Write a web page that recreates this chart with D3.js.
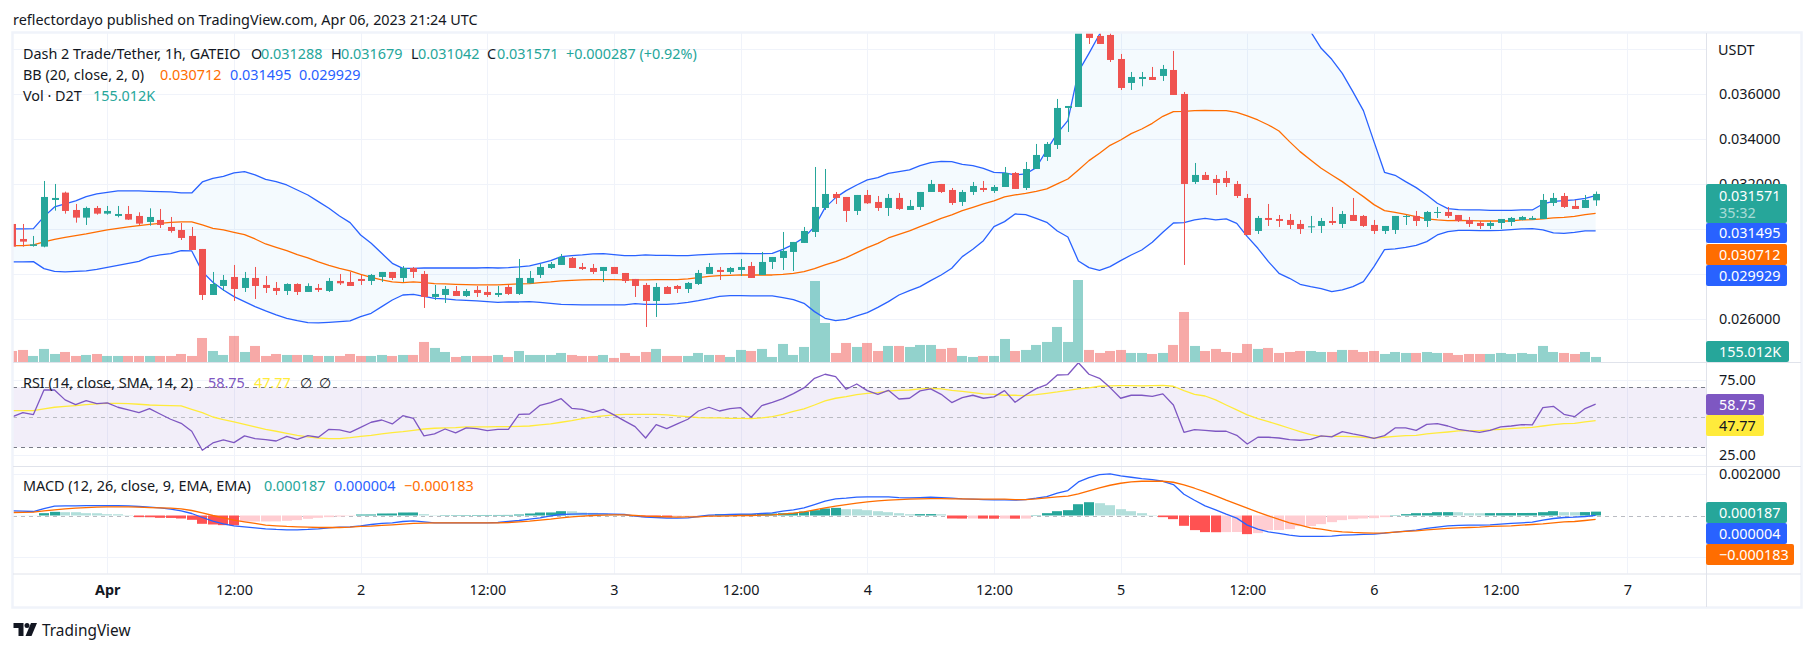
<!DOCTYPE html>
<html>
<head>
<meta charset="utf-8">
<title>Dash 2 Trade/Tether, 1h, GATEIO</title>
<script src="https://cdn.jsdelivr.net/npm/d3@7/dist/d3.min.js"></script>
<style>
    html, body { margin: 0; padding: 0; background: #fff; }
    svg { display: block; }
    text { font-family: "Noto Sans", sans-serif; font-size: 14.4px; fill: #131722; }
</style>
</head>
<body>
<div id="chart"></div>
<script>
// hourly bars, first one is Mar 31 15:00 UTC, last one Apr 6 21:00 UTC
var firstBar = Date.UTC(2023, 2, 31, 15);

// prices and MACD are in millionths of USDT, volume in thousands of D2T
var opens = [30237,29570,29259,29230,31304,31630,30859,30519,30948,30696,
    30593,30681,30593,30326,30415,30104,29970,29704,29126,27081,
    27481,27881,27393,27837,27526,27393,27259,27570,27215,27393,
    27259,27704,27659,27793,27704,27881,28104,27837,28281,28015,
    26993,27081,27259,27037,27304,27215,27081,27437,27126,27600,
    27970,28281,28415,28726,28326,28281,28148,28326,28059,27793,
    27526,26815,27437,27481,27348,27570,28015,28193,28104,28193,
    28370,27970,28548,28726,28993,29393,29881,30948,31570,31437,
    30815,31526,31215,30948,31393,30859,30993,31659,32015,31748,
    31215,31659,31837,31704,31881,32504,31837,32681,33215,33748,
    35393,35437,38900,38593,38637,37570,36504,36681,36770,36815,
    37081,36015,32104,32415,32237,32281,32015,31393,29926,30504,
    30459,30415,30237,30104,30148,30370,30237,30637,30593,30193,
    29926,29970,30548,30593,30370,30741,30770,30637,30415,30281,
    30148,30281,30326,30415,30430,30459,31170,31481,31037,30948,31288];
var highs = [30741,30237,29704,32148,32015,31674,31126,31007,31037,31037,
    31037,31037,30756,30933,30904,30548,30281,30104,29126,28104,
    27970,28415,28104,28326,27926,27659,27600,27600,27600,27570,
    27837,28015,28104,27970,28015,28104,28104,28370,28326,28148,
    27526,27481,27481,27348,27481,27481,27481,27526,28681,28148,
    28459,28548,28904,28770,28504,28459,28326,28326,28059,27793,
    27615,27615,27481,27526,27659,28193,28504,28326,28326,28681,
    28548,28993,28770,29881,29437,30104,32770,32681,31659,31437,
    31526,31748,31481,31570,31615,31304,31659,32193,32015,31837,
    31748,32104,32148,31970,32770,32548,32993,33793,33881,35793,
    35481,39000,39100,38800,38800,37793,36993,36993,37215,37304,
    37926,36104,32948,32548,32415,32593,32148,31570,30593,31126,
    30637,30681,30415,30593,30504,30993,30815,31393,30637,30415,
    30148,30593,30637,30815,30815,30993,30993,30637,30548,30370,
    30370,30459,30548,30593,30593,31570,31615,31615,31304,31526,31679];
var lows = [29126,29230,29230,29200,30830,30696,30296,30193,30652,30652,
    30533,30415,30193,30163,30059,29852,29526,29081,26859,27081,
    27259,26815,27215,26904,27170,27081,27081,27081,27215,27215,
    27215,27526,27481,27526,27526,27659,27748,27659,27837,26504,
    26859,26726,27037,26993,26993,26993,26993,27081,27081,27600,
    27837,28237,28415,28281,28193,28015,27659,28015,27615,26993,
    25659,26104,27126,27170,27170,27526,28015,27748,28015,27926,
    27837,27970,28237,28193,28148,29393,29659,30859,31126,30326,
    30637,31126,30815,30593,30859,30859,30859,31659,31615,31081,
    31037,31526,31659,31615,31881,31793,31748,32681,33037,33570,
    34326,35437,38237,38237,37437,36193,36193,36356,36637,36593,
    35970,28415,32015,32193,31526,31881,31393,29748,29793,30148,
    30104,30015,29793,29837,29837,30193,30059,30370,30104,29793,
    29793,29793,30193,30148,30104,30504,30504,30326,30104,30015,
    30015,30015,30148,30400,30415,30459,31037,30948,30904,30948,31042];
var closes = [29230,29452,29333,31437,31393,30815,30519,30948,30696,30815,
    30681,30430,30252,30548,30193,29926,29615,29081,27081,27570,
    27748,27348,27837,27481,27393,27259,27570,27215,27481,27304,
    27704,27600,27481,27704,27970,28104,27837,28281,28104,26993,
    27126,27348,27037,27259,27170,27081,27170,27126,27837,27837,
    28326,28459,28770,28281,28237,28104,28326,28015,27704,27481,
    26815,27437,27126,27348,27615,28059,28326,28104,28281,28326,
    27837,28548,28770,29037,29437,29926,30993,31570,31393,30815,
    31526,31156,30948,31393,30904,31037,31659,32015,31659,31170,
    31659,31926,31748,31881,32504,31793,32681,33304,33793,35393,
    35481,38900,38504,38237,37526,36281,36770,36770,36637,37126,
    35970,32015,32415,32193,32059,32059,31481,29748,30504,30415,
    30370,30193,30015,30133,30370,30281,30681,30370,30148,29926,
    30148,30593,30593,30370,30770,30770,30593,30370,30237,30148,
    30281,30459,30504,30548,30504,31304,31393,30993,30904,31304,31571];
var volumes = [329,359,184,388,242,300,184,213,242,184,
    184,184,184,184,184,184,242,184,707,329,
    213,766,300,475,184,242,213,213,213,184,
    184,184,242,184,184,213,184,213,213,591,
    417,300,155,184,184,184,213,155,329,213,
    213,213,271,213,184,184,213,126,271,184,
    300,388,184,184,184,271,213,213,155,359,
    329,388,155,533,213,446,2364,1143,271,562,
    446,562,329,475,475,446,504,504,388,417,
    184,155,184,184,678,329,359,504,591,1027,
    591,2393,359,271,329,359,271,271,242,271,
    504,1463,475,329,388,300,271,533,388,417,
    271,300,329,329,300,300,359,359,300,329,
    242,300,271,271,300,271,271,213,242,242,
    242,271,242,271,242,475,300,271,242,300,155.012];
var bbUpper = [30015,30015,30030,30563,30993,31126,31259,31452,31570,31644,
    31704,31704,31704,31689,31674,31659,31615,31615,32104,32267,
    32356,32504,32563,32415,32222,32119,31970,31748,31526,31230,
    30933,30593,30296,29748,29378,28933,28489,28267,28267,28281,
    28281,28281,28281,28281,28281,28296,28281,28296,28326,28370,
    28489,28607,28785,28830,28859,28904,28919,28874,28830,28830,
    28859,28844,28844,28830,28830,28859,28889,28904,28919,28933,
    28919,28919,28933,29111,29333,29630,30119,30963,31407,31719,
    31970,32193,32296,32489,32563,32637,32830,32963,33022,33007,
    32889,32830,32711,32533,32504,32415,32459,32741,33526,34267,
    34830,37007,37822,38667,39452,40193,40637,40933,41081,41081,
    41081,41081,40933,40785,40637,40489,40341,40193,40044,39896,
    39748,39600,39304,38785,38044,37556,36933,36119,35274,33896,
    32533,32400,32119,31852,31526,31156,30919,30874,30859,30859,
    30844,30844,30844,30859,30859,31126,31244,31274,31304,31378,31495];
var bbBasis = [29274,29274,29304,29437,29556,29644,29719,29793,29881,29970,
    30044,30104,30163,30222,30267,30311,30326,30326,30193,30044,
    29970,29867,29763,29570,29348,29200,29052,28874,28726,28548,
    28400,28267,28148,28000,27867,27748,27659,27630,27659,27630,
    27585,27570,27556,27541,27526,27526,27526,27556,27570,27585,
    27630,27659,27704,27733,27748,27763,27763,27763,27748,27748,
    27748,27763,27763,27763,27793,27852,27911,27941,27956,27970,
    27970,27970,27970,28000,28044,28119,28252,28415,28563,28741,
    28963,29185,29378,29615,29778,29926,30119,30296,30489,30637,
    30830,30978,31126,31259,31437,31526,31600,31689,31793,32015,
    32237,32637,33052,33378,33733,33970,34252,34459,34711,35022,
    35230,35244,35274,35289,35274,35274,35200,35037,34859,34637,
    34370,33896,33452,33081,32711,32415,32119,31778,31452,31096,
    30830,30756,30667,30563,30459,30415,30385,30400,30385,30370,
    30370,30370,30370,30415,30430,30459,30504,30533,30578,30652,30712];
var bbLower = [28548,28548,28563,28252,28133,28104,28133,28148,28222,28311,
    28400,28489,28578,28770,28859,28919,29052,29037,28119,27644,
    27304,27007,26785,26563,26370,26193,26044,25941,25852,25837,
    25867,25896,25926,26119,26267,26563,26859,27081,27111,27022,
    26933,26904,26859,26844,26815,26785,26756,26770,26770,26785,
    26756,26711,26667,26652,26637,26637,26637,26637,26637,26696,
    26667,26667,26667,26696,26756,26830,26919,27022,27052,27052,
    27037,27037,27037,26963,26874,26711,26341,26044,25941,26000,
    26148,26296,26533,26785,27081,27274,27452,27719,27970,28267,
    28785,29111,29496,30119,30341,30681,30652,30489,30311,29926,
    29659,28593,28296,28178,28341,28607,28859,29081,29422,29867,
    30281,30296,30415,30489,30415,30459,30267,29674,29156,28563,
    28044,27822,27556,27452,27363,27230,27304,27452,27674,28341,
    29096,29126,29200,29289,29452,29748,29896,29956,29956,29941,
    29941,29956,29985,30015,30030,29970,29837,29822,29867,29926,29929];
var rsiValues = [50.4,53.1,51.8,68.2,68.2,61.6,58.4,61.1,59.1,59.6,
    56.7,54.9,53.1,55.8,52.2,48.7,46,40.7,28,32.9,
    34.9,33.1,37.6,35.8,35.1,34.2,37.3,35.3,37.8,36.7,
    42,41.6,40,43.3,46.7,48.2,45.6,51.1,49.3,37.6,
    38.9,42.2,39.6,42.9,42.4,41.1,42,42,52,52.2,
    58,59.8,62.4,56,55.3,53.3,55.3,51.6,47.6,43.8,
    36.2,45.1,42.4,45.6,48.7,54.2,56.7,54.2,55.8,56.4,
    50,57.8,60,62.4,65.8,69.6,76,78.7,77.1,68.7,
    72.2,67.8,65.3,68,62.2,62.7,67.6,68.9,65.3,59.8,
    63.1,64.7,62.7,63.6,67.8,60,64.9,69.1,71.8,78.2,
    78.4,86.4,78.7,76,69.8,62.7,64.7,64.7,64,65.6,
    58.2,40,41.8,41.3,40.7,40.7,38,32.2,36.7,36.7,
    36.2,35.1,34.7,35.3,37.6,36.9,40.4,38.9,37.6,36,
    37.8,42.9,42.9,41.3,45.3,45.8,44.2,42,40.9,40,
    41.3,43.6,44.2,45.1,44.9,56.4,57.3,52,50.4,55.8,58.75];
var rsiAverage = [54.4,54.4,54.4,55.6,56.7,57.3,57.8,58.4,58.9,59.3,
    59.3,59.1,58.7,58.2,58,57.8,57.6,55.3,53.1,50.2,
    48.4,46.9,45.3,43.6,42,40.7,39.3,38,36.9,36.2,
    35.8,35.8,36.4,37.3,38,38.9,39.8,40.4,41.3,42.2,
    42.7,42.9,43.1,43.6,43.6,43.6,43.8,43.8,44,44.2,
    44.9,45.6,46.7,47.8,49.1,50.2,50.9,51.6,52,52,
    52,52,51.6,50.9,50.4,49.8,49.6,49.6,49.3,49.3,
    49.1,49.6,50.4,52,54,55.6,58.2,60.9,62.7,63.8,
    65.1,66,66.4,67.6,68,68.2,68.9,69.3,68.9,68,
    67.3,66.4,65.6,65.3,64.7,64.7,64.4,65.1,66,66.9,
    68,68.9,69.6,70.7,70.9,71.1,71.1,70.9,71.1,71.3,
    70.7,67.8,65.3,64.2,61.6,58.2,54.9,51.6,49.1,47.1,
    44.9,42.7,40.4,38.4,37.3,37.3,37.3,37.1,36.7,36.2,
    36.7,37.3,37.8,38,38.9,39.6,40.2,40.9,41.1,41.1,
    41.6,42,42.4,42.9,43.3,44.2,45.1,45.8,46,46.9,47.77];
var macdLine = [225,209,193,338,451,467,467,483,483,483,
    483,467,435,403,370,306,225,97,-97,-274,
    -403,-499,-547,-596,-644,-676,-692,-692,-676,-644,
    -596,-564,-547,-499,-435,-386,-354,-290,-258,-306,
    -354,-354,-354,-354,-354,-354,-338,-290,-242,-177,
    -113,-16,48,64,80,80,80,64,48,-32,
    -80,-97,-129,-129,-113,-48,16,32,48,64,
    64,97,129,209,274,370,531,692,805,837,
    886,902,902,902,869,853,869,886,869,837,
    805,789,773,757,757,741,773,837,918,1079,
    1208,1626,1835,1980,2013,1916,1852,1787,1739,1658,
    1497,1030,741,467,274,64,-129,-467,-660,-789,
    -869,-950,-1014,-1014,-1014,-998,-950,-934,-918,-902,
    -853,-805,-757,-708,-628,-564,-499,-483,-467,-467,
    -451,-419,-386,-354,-322,-225,-145,-97,-80,-48,4];
var macdSignal = [145,153,161,225,274,322,354,386,403,419,
    419,419,403,386,370,354,322,242,129,0,
    -113,-225,-306,-386,-467,-499,-531,-547,-564,-580,
    -580,-580,-564,-531,-515,-483,-451,-419,-386,-370,
    -354,-354,-354,-354,-354,-354,-354,-338,-306,-274,
    -225,-177,-113,-64,-32,0,16,32,32,0,
    -32,-48,-64,-80,-64,-64,-32,-32,-16,0,
    0,16,32,64,113,177,274,370,451,531,
    596,660,708,741,773,789,805,821,821,805,
    805,789,789,789,789,773,773,805,853,902,
    934,1047,1191,1336,1465,1562,1626,1658,1658,1658,
    1610,1481,1320,1143,950,741,547,354,161,-16,
    -193,-354,-467,-596,-660,-741,-789,-821,-837,-853,
    -837,-805,-773,-741,-692,-660,-628,-596,-580,-564,
    -531,-515,-499,-467,-435,-403,-354,-306,-290,-242,-183];
var macdHist = [2,2,3,113,177,161,160,113,110,64,
    60,16,-80,-85,-113,-118,-145,-209,-402,-435,
    -467,-470,-295,-290,-288,-285,-258,-225,-161,-113,
    -80,-48,-16,48,50,97,99,145,147,64,
    16,18,20,22,24,25,26,28,48,97,
    145,147,209,205,145,129,97,48,16,-16,
    -80,-85,-90,-48,-16,-14,16,64,66,68,
    70,80,97,113,129,193,258,338,370,306,
    304,258,209,161,113,64,66,68,60,-145,
    -150,-145,-150,-155,-150,-155,-150,16,113,209,
    258,547,644,596,499,306,209,113,16,-80,
    -177,-499,-708,-805,-810,-805,-800,-902,-853,-708,
    -705,-660,-515,-510,-419,-322,-225,-177,-145,-129,
    -80,16,64,113,115,161,163,160,113,111,
    115,117,119,121,123,161,209,161,159,165,187];

var priceGrid = [38000, 36000, 34000, 32000, 30000, 28000, 26000];
var priceTicks = [36000, 34000, 32000, 26000];
var rsiGrid = [75, 25];
var rsiLevels = [70, 50, 30];
var macdGrid = [2000, -2000];
var timeTicks = [Date.UTC(2023,3,1), Date.UTC(2023,3,1,12), Date.UTC(2023,3,2), Date.UTC(2023,3,2,12),
    Date.UTC(2023,3,3), Date.UTC(2023,3,3,12), Date.UTC(2023,3,4), Date.UTC(2023,3,4,12),
    Date.UTC(2023,3,5), Date.UTC(2023,3,5,12), Date.UTC(2023,3,6), Date.UTC(2023,3,6,12), Date.UTC(2023,3,7)];
var timeLabels = ["Apr", "12:00", "2", "12:00", "3", "12:00", "4", "12:00", "5", "12:00", "6", "12:00", "7"];

var colors = {
    up: "#26a69a", down: "#ef5350", upLight: "#b2dfdb", downDark: "#ff5252", downLight: "#ffcdd2",
    blue: "#2962ff", orange: "#ff6d00", purple: "#7e57c2", yellow: "#ffeb3b",
    grid: "#f0f3fa", border: "#e0e3eb", text: "#131722"
};
var pane = { left: 13, right: 1706, outer: 1801, top: 33, priceBottom: 362, rsiBottom: 466, macdBottom: 573.5, bottom: 607 };

var bars = opens.map(function (o, i) {
    return { time: firstBar + i * 3600000, open: o, high: highs[i], low: lows[i], close: closes[i], volume: volumes[i],
        upper: bbUpper[i], basis: bbBasis[i], lower: bbLower[i], rsi: rsiValues[i], rsiAvg: rsiAverage[i],
        macd: macdLine[i], signal: macdSignal[i], hist: macdHist[i], prevHist: i ? macdHist[i - 1] : 0 };
});

var x = d3.scaleUtc().domain([timeTicks[0], timeTicks[12]]).range([107.3, 1627.3]);
var priceY = d3.scaleLinear().domain([36000, 26000]).range([94.3, 319.3]);
var volumeY = d3.scaleLinear().domain([0, 2393]).range([362.3, 280]);
var rsiY = d3.scaleLinear().domain([70, 30]).range([387.3, 447.3]);
var macdY = d3.scaleLinear().domain([2000, -2000]).range([474.2, 556.8]);

var svg = d3.select("#chart").append("svg").attr("width", 1814).attr("height", 652);

svg.append("clipPath").attr("id", "plotClip").append("rect")
    .attr("x", pane.left).attr("y", pane.top).attr("width", pane.right - pane.left).attr("height", pane.priceBottom - pane.top);
svg.append("clipPath").attr("id", "allClip").append("rect")
    .attr("x", pane.left).attr("y", pane.top).attr("width", pane.right - pane.left).attr("height", pane.macdBottom - pane.top);

function hLines(parent, values, scale, color, dash) {
    parent.selectAll(null).data(values).enter().append("line")
        .attr("x1", pane.left).attr("x2", pane.right)
        .attr("y1", function (d) { return Math.round(scale(d)) + 0.5; })
        .attr("y2", function (d) { return Math.round(scale(d)) + 0.5; })
        .attr("stroke", color).attr("stroke-dasharray", dash || null);
}

function drawLine(parent, key, scale, color, width) {
    parent.append("path").datum(bars)
        .attr("fill", "none").attr("stroke", color).attr("stroke-width", width || 1.3).attr("stroke-linejoin", "round")
        .attr("d", d3.line().x(function (d) { return x(d.time); }).y(function (d) { return scale(d[key]); }));
}

// grid
var grid = svg.append("g");
grid.selectAll(null).data(timeTicks).enter().append("line")
    .attr("x1", function (d) { return Math.round(x(d)) + 0.5; })
    .attr("x2", function (d) { return Math.round(x(d)) + 0.5; })
    .attr("y1", pane.top).attr("y2", pane.macdBottom).attr("stroke", colors.grid);
hLines(grid, priceGrid, priceY, colors.grid);
hLines(grid, rsiGrid, rsiY, colors.grid);
hLines(grid, macdGrid, macdY, colors.grid);

// volume
var price = svg.append("g").attr("clip-path", "url(#plotClip)");
price.selectAll(".vol").data(bars).enter().append("rect").attr("class", "vol")
    .attr("x", function (d) { return Math.round(x(d.time)) - 5; })
    .attr("width", 10)
    .attr("y", function (d) { return volumeY(d.volume); })
    .attr("height", function (d) { return volumeY(0) - volumeY(d.volume); })
    .attr("fill", function (d) { return d.close >= d.open ? colors.up : colors.down; })
    .attr("opacity", 0.5);

// bollinger bands
price.append("path").datum(bars)
    .attr("fill", "#2196f3").attr("fill-opacity", 0.05)
    .attr("d", d3.area().x(function (d) { return x(d.time); })
        .y0(function (d) { return priceY(d.lower); }).y1(function (d) { return priceY(d.upper); }));
drawLine(price, "basis", priceY, colors.orange);
drawLine(price, "upper", priceY, colors.blue);
drawLine(price, "lower", priceY, colors.blue);

// candles
function candleColor(d) { return d.close >= d.open ? colors.up : colors.down; }
price.selectAll(".wick").data(bars).enter().append("rect").attr("class", "wick")
    .attr("x", function (d) { return Math.round(x(d.time)); })
    .attr("width", 1)
    .attr("y", function (d) { return priceY(d.high); })
    .attr("height", function (d) { return priceY(d.low) - priceY(d.high); })
    .attr("fill", candleColor);
price.selectAll(".body").data(bars).enter().append("rect").attr("class", "body")
    .attr("x", function (d) { return Math.round(x(d.time)) - 3; })
    .attr("width", 7)
    .attr("y", function (d) { return priceY(Math.max(d.open, d.close)); })
    .attr("height", function (d) { return Math.max(1, Math.abs(priceY(d.open) - priceY(d.close))); })
    .attr("fill", candleColor);

// rsi
var lower = svg.append("g").attr("clip-path", "url(#allClip)");
lower.append("rect")
    .attr("x", pane.left).attr("width", pane.right - pane.left)
    .attr("y", rsiY(70)).attr("height", rsiY(30) - rsiY(70))
    .attr("fill", colors.purple).attr("fill-opacity", 0.1);
hLines(lower, [70, 30], rsiY, "#787b86", "4 4");
hLines(lower, [50], rsiY, "#b9bbc2", "4 4");
drawLine(lower, "rsiAvg", rsiY, colors.yellow);
drawLine(lower, "rsi", rsiY, colors.purple);

// macd
hLines(lower, [0], macdY, "#b9bbc2", "4 4");
lower.selectAll(".hist").data(bars).enter().append("rect").attr("class", "hist")
    .attr("x", function (d) { return Math.round(x(d.time)) - 5; })
    .attr("width", 10)
    .attr("y", function (d) { return Math.min(macdY(d.hist), macdY(0)); })
    .attr("height", function (d) { return Math.abs(macdY(d.hist) - macdY(0)); })
    .attr("fill", function (d) {
        if (d.hist >= 0) return d.hist >= d.prevHist ? colors.up : colors.upLight;
        return d.hist <= d.prevHist ? colors.downDark : colors.downLight;
    });
drawLine(lower, "macd", macdY, colors.blue);
drawLine(lower, "signal", macdY, colors.orange);

// frame and pane separators
var frame = svg.append("g");
frame.append("rect")
    .attr("x", pane.left - 0.5).attr("y", pane.top - 0.5)
    .attr("width", pane.outer - pane.left + 1).attr("height", pane.bottom - pane.top + 1)
    .attr("fill", "none").attr("stroke", colors.grid).attr("stroke-width", 2.5);
[pane.priceBottom, pane.rsiBottom, pane.macdBottom].forEach(function (y) {
    frame.append("line").attr("x1", pane.left).attr("x2", pane.outer)
        .attr("y1", y + 0.5).attr("y2", y + 0.5).attr("stroke", colors.border);
});
frame.append("line").attr("x1", pane.right + 0.5).attr("x2", pane.right + 0.5)
    .attr("y1", pane.top).attr("y2", pane.bottom).attr("stroke", colors.border);

// axes
function cleanAxis(g) {
    g.select(".domain").remove();
    g.selectAll("text").attr("fill", null).style("font-family", null);
    g.attr("font-family", null).attr("font-size", null);
}
svg.append("g").attr("transform", "translate(" + pane.right + ",0)")
    .call(d3.axisRight(priceY).tickValues(priceTicks).tickSize(0).tickPadding(13)
        .tickFormat(function (d) { return (d / 1e6).toFixed(6); }))
    .call(cleanAxis);
svg.append("g").attr("transform", "translate(" + pane.right + ",0)")
    .call(d3.axisRight(rsiY).tickValues(rsiGrid).tickSize(0).tickPadding(13)
        .tickFormat(function (d) { return d.toFixed(2); }))
    .call(cleanAxis);
svg.append("g").attr("transform", "translate(" + pane.right + ",0)")
    .call(d3.axisRight(macdY).tickValues([2000]).tickSize(0).tickPadding(13)
        .tickFormat(function (d) { return (d / 1e6).toFixed(6); }))
    .call(cleanAxis);
svg.append("g").attr("transform", "translate(0," + pane.macdBottom + ")")
    .call(d3.axisBottom(x).tickValues(timeTicks).tickSize(0).tickPadding(11)
        .tickFormat(function (d, i) { return timeLabels[i]; }))
    .call(cleanAxis)
    .selectAll("text").style("font-weight", function (d, i) { return i === 0 ? 700 : 400; });

// value tags on the right scale
var last = bars[bars.length - 1];
var tags = [
    { y: 184, h: 39, w: 81, fill: colors.up, label: (last.close / 1e6).toFixed(6), ty: 195.5 },
    { y: 223, h: 20, w: 81, fill: colors.blue, label: (last.upper / 1e6).toFixed(6) },
    { y: 244, h: 21, w: 81, fill: "#ff6d00", label: (last.basis / 1e6).toFixed(6) },
    { y: 265, h: 21, w: 81, fill: colors.blue, label: (last.lower / 1e6).toFixed(6) },
    { y: 341, h: 21, w: 83, fill: colors.up, label: last.volume.toFixed(3) + "K" },
    { y: 394, h: 21, w: 58, fill: colors.purple, label: last.rsi.toFixed(2) },
    { y: 415, h: 21, w: 58, fill: colors.yellow, label: last.rsiAvg.toFixed(2), dark: true },
    { y: 502, h: 21, w: 81, fill: colors.up, label: (last.hist / 1e6).toFixed(6) },
    { y: 523, h: 21, w: 81, fill: colors.blue, label: (last.macd / 1e6).toFixed(6) },
    { y: 544, h: 21, w: 88, fill: colors.orange, label: "\u2212" + (-last.signal / 1e6).toFixed(6) }
];
var tag = svg.append("g").selectAll("g").data(tags).enter().append("g");
tag.append("rect")
    .attr("x", pane.right).attr("y", function (d) { return d.y; })
    .attr("width", function (d) { return d.w; }).attr("height", function (d) { return d.h; })
    .attr("rx", 2).attr("fill", function (d) { return d.fill; });
tag.append("text")
    .attr("x", pane.right + 13)
    .attr("y", function (d) { return d.ty || d.y + d.h / 2; })
    .attr("dy", "0.35em")
    .style("fill", function (d) { return d.dark ? "#131722" : "#fff"; })
    .text(function (d) { return d.label; });
svg.append("text").attr("x", pane.right + 13).attr("y", 213).attr("dy", "0.35em")
    .style("fill", "#fff").style("opacity", 0.6).text("35:32");
svg.append("text").attr("x", pane.right + 12).attr("y", 50).attr("dy", "0.35em").text("USDT");

// legends
function legend(y, parts) {
    parts.forEach(function (p) {
        svg.append("text").attr("x", p[0]).attr("y", y).attr("dy", "0.35em")
            .style("fill", p[2] || colors.text).text(p[1]);
    });
}
legend(53.7, [[23, "Dash 2 Trade/Tether, 1h, GATEIO"], [251, "O"], [261, "0.031288", colors.up], [331, "H"], [341, "0.031679", colors.up],
    [411, "L"], [418, "0.031042", colors.up], [487, "C"], [497, "0.031571", colors.up], [566, "+0.000287 (+0.92%)", colors.up]]);
legend(74.7, [[23, "BB (20, close, 2, 0)"], [160, "0.030712", colors.orange], [230, "0.031495", colors.blue], [299, "0.029929", colors.blue]]);
legend(96, [[23, "Vol \u00b7 D2T"], [93, "155.012K", colors.up]]);
legend(382.7, [[23, "RSI (14, close, SMA, 14, 2)"], [208, "58.75", colors.purple], [254, "47.77", colors.yellow], [300, "\u2205"], [319, "\u2205"]]);
legend(486, [[23, "MACD (12, 26, close, 9, EMA, EMA)"], [264, "0.000187", colors.up], [334, "0.000004", colors.blue], [404, "\u22120.000183", colors.orange]]);

// header and footer
svg.append("text").attr("x", 13).attr("y", 20).attr("dy", "0.35em")
    .text("reflectordayo published on TradingView.com, Apr 06, 2023 21:24 UTC");
var logo = svg.append("g").attr("fill", "#131722");
logo.append("path").attr("d", "M13.5 623H23.5V636H18.5V628H13.5Z");
logo.append("circle").attr("cx", 27).attr("cy", 625.5).attr("r", 2.5);
logo.append("path").attr("d", "M31 623H37L31.5 636H25.5Z");
svg.append("text").attr("x", 42).attr("y", 630.5).attr("dy", "0.35em").style("font-size", "15.4px").text("TradingView");
</script>
</body>
</html>
